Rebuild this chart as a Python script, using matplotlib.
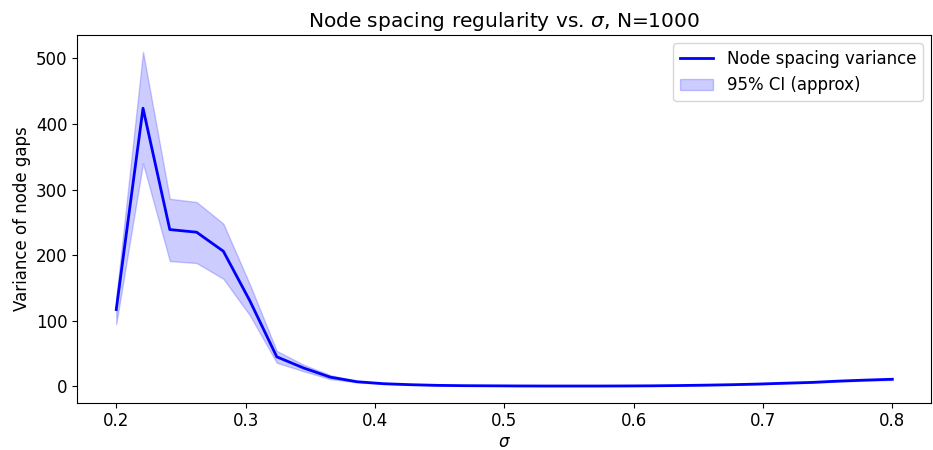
import matplotlib
matplotlib.use('Agg')
import matplotlib.pyplot as plt

sigma = [0.2, 0.2207, 0.2414, 0.2621, 0.2828, 0.3034, 0.3241, 0.3448, 0.3655, 0.3862,
         0.4069, 0.4276, 0.4483, 0.469, 0.4897, 0.5103, 0.531, 0.5517, 0.5724, 0.5931,
         0.6138, 0.6345, 0.6552, 0.6759, 0.6966, 0.7172, 0.7379, 0.7586, 0.7793, 0.8]
variance = [117, 424, 239, 235, 206, 130, 45, 28, 14, 7,
            4, 2.5, 1.5, 1.0, 0.8, 0.6, 0.5, 0.5, 0.5, 0.6,
            0.8, 1.2, 1.8, 2.5, 3.5, 4.8, 6.0, 8.0, 9.5, 10.8]
ci_low = [95, 340, 191, 188, 164, 108, 36, 23, 11, 6,
          3.5, 2.2, 1.3, 0.9, 0.7, 0.5, 0.45, 0.45, 0.45, 0.5,
          0.7, 1.0, 1.6, 2.2, 3.1, 4.3, 5.4, 7.2, 8.6, 9.7]
ci_high = [135, 510, 286, 281, 248, 155, 54, 33, 17, 8,
           4.5, 2.8, 1.7, 1.1, 0.9, 0.7, 0.55, 0.55, 0.55, 0.7,
           0.9, 1.4, 2.0, 2.8, 3.9, 5.3, 6.6, 8.8, 10.4, 11.9]

fig, ax = plt.subplots(figsize=(9.33, 4.5), dpi=100)
ax.plot(sigma, variance, color='blue', linewidth=2, label='Node spacing variance')
ax.fill_between(sigma, ci_low, ci_high, color='blue', alpha=0.2, label='95% CI (approx)')
ax.set_title(r'Node spacing regularity vs. $\sigma$, N=1000', fontsize=14.5)
ax.set_xlabel(r'$\sigma$', fontsize=12, labelpad=2)
ax.set_ylabel('Variance of node gaps', fontsize=12)
ax.tick_params(labelsize=12)
ax.legend(loc='upper right', fontsize=12)
plt.subplots_adjust(left=0.083, right=0.998, top=0.922, bottom=0.105)
plt.savefig('out.png', dpi=100)
